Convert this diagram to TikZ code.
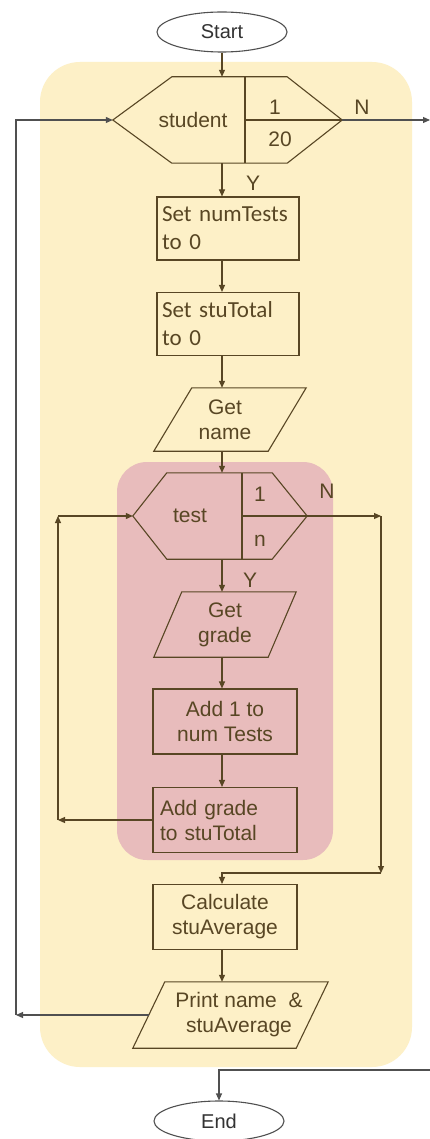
\documentclass[tikz,border=0pt]{standalone}
\usepackage{fontspec}
\setmainfont{Liberation Sans}
\newfontfamily\calibrifont{Carlito}
\usetikzlibrary{shapes.geometric,arrows.meta}
\definecolor{paleyellow}{RGB}{253,240,199}
\definecolor{palepink}{RGB}{232,188,188}
\definecolor{ink}{RGB}{88,70,36}
\definecolor{greyline}{RGB}{80,80,80}

\begin{document}
\begin{tikzpicture}[
      x=1pt, y=-1pt,
      every node/.style={inner sep=0pt, text=ink, font=\fontsize{21}{25}\selectfont},
      terminal/.style={ellipse, draw=greyline, line width=1.1pt, minimum width=130pt, minimum height=40pt, text=black!80, font=\fontsize{20}{24}\selectfont},
      stepbox/.style={draw=ink, line width=1.1pt, minimum width=144pt, minimum height=65pt, align=center},
      setbox/.style={draw=ink, line width=1.1pt, text width=132pt, inner xsep=5pt, minimum height=63pt, align=left, font=\calibrifont\fontsize{23}{28}\selectfont},
      outline/.style={draw=ink, line width=1.1pt},
      flowarrow/.style={draw=ink, line width=1.1pt, -{Triangle[length=7pt,width=6pt]}},
      outerarrow/.style={draw=greyline, line width=1.1pt, -{Triangle[length=7pt,width=6pt]}}
    ]

    \path[use as bounding box, fill=white] (0,0) rectangle (430,1139);
    \fill[paleyellow, rounded corners=40pt] (40,62) rectangle (412,1067);
    \fill[palepink, rounded corners=30pt] (117,462) rectangle (333,860);

    \node[terminal] (start) at (222,32) {Start};

    \node[minimum width=229pt, minimum height=86pt] (student) at (227.5,120) {};
    \draw[outline] (student.west) -- ([xshift=59pt]student.north west) -- ([xshift=-55pt]student.north east)
      -- (student.east) -- ([xshift=-55pt]student.south east) -- ([xshift=59pt]student.south west) -- cycle;
    \draw[outline] (245,77) -- (245,163) (245,120) -- (student.east);
    \node (stuvar) at (193,120) {student};
    \node (stufirst) at (275,107) {1};
    \node (stulast) at (280,139) {20};
    \node (stuno) at (362,107) {N};
    \node (stuyes) at (253,183) {Y};

    \node[setbox] (numtests) at (228,228.5) {Set numTests\\to 0};
    \node[setbox] (stutotal) at (228,324) {Set stuTotal\\to 0};

    \node[minimum width=152pt, minimum height=63pt] (getname) at (230,419.5) {};
    \draw[outline] ([xshift=38pt]getname.north west) -- (getname.north east)
      -- ([xshift=-38pt]getname.south east) -- (getname.south west) -- cycle;
    \node[align=center] (getnametext) at (225,419.5) {Get\\name};

    \node[minimum width=174pt, minimum height=86pt] (test) at (220,516) {};
    \draw[outline] (test.west) -- ([xshift=34pt]test.north west) -- ([xshift=-35pt]test.north east)
      -- (test.east) -- ([xshift=-35pt]test.south east) -- ([xshift=34pt]test.south west) -- cycle;
    \draw[outline] (242,473) -- (242,559) (242,516) -- (test.east);
    \node (testvar) at (190,516) {test};
    \node (testfirst) at (260,494) {1};
    \node (testlast) at (260,541) {n};
    \node (testno) at (327,491) {N};
    \node (testyes) at (250,580) {Y};

    \node[minimum width=142pt, minimum height=65pt] (getgrade) at (225,624.5) {};
    \draw[outline] ([xshift=28pt]getgrade.north west) -- (getgrade.north east)
      -- ([xshift=-28pt]getgrade.south east) -- (getgrade.south west) -- cycle;
    \node[align=center] (getgradetext) at (225,624.5) {Get\\grade};

    \node[stepbox] (addone) at (225,721.5) {Add 1 to\\num Tests};
    \node[stepbox, text width=130pt, align=left] (addgrade) at (225,820) {Add grade\\to stuTotal};
    \node[stepbox] (calc) at (225,917) {Calculate\\stuAverage};

    \node[minimum width=195pt, minimum height=66pt] (print) at (230.5,1015) {};
    \draw[outline] ([xshift=32pt]print.north west) -- (print.north east)
      -- ([xshift=-32pt]print.south east) -- (print.south west) -- cycle;
    \node[align=center] (printtext) at (239,1015) {Print name \ \&\\stuAverage};

    \node[terminal] (end) at (219,1121) {End};

    \coordinate (innerleft) at (58,820);
    \coordinate (innertop) at (58,516);
    \coordinate (innerright) at (381,516);
    \coordinate (innerdown) at (381,873);
    \coordinate (outerleft) at (16,1015);
    \coordinate (outerright) at (430,120);
    \coordinate (outerback) at (430,1070);

    \draw[flowarrow] (start) -- (start |- student.north);
    \draw[flowarrow] (start |- student.south) -- (start |- numtests.north);
    \draw[flowarrow] (start |- numtests.south) -- (start |- stutotal.north);
    \draw[flowarrow] (start |- stutotal.south) -- (start |- getname.north);
    \draw[flowarrow] (start |- getname.south) -- (start |- test.north);
    \draw[flowarrow] (start |- test.south) -- (start |- getgrade.north);
    \draw[flowarrow] (start |- getgrade.south) -- (start |- addone.north);
    \draw[flowarrow] (start |- addone.south) -- (start |- addgrade.north);
    \draw[flowarrow] (addgrade) -- (innerleft);
    \draw[flowarrow] (innerleft) -- (innertop);
    \draw[flowarrow] (innertop) -- (test.west);
    \draw[flowarrow] (test.east) -- (innerright);
    \draw[flowarrow] (innerright) -- (innerdown);
    \draw[flowarrow] (innerdown) -| (start |- calc.north);
    \draw[flowarrow] (start |- calc.south) -- (start |- print.north);
    \draw[outerarrow] ([xshift=16pt]print.west) -- (outerleft);
    \draw[outerarrow] (outerleft) |- (student.west);
    \draw[outerarrow] (student.east) -- (outerright);
    \draw[outerarrow] (outerback) -| (end);

    \end{tikzpicture}
\end{document}
